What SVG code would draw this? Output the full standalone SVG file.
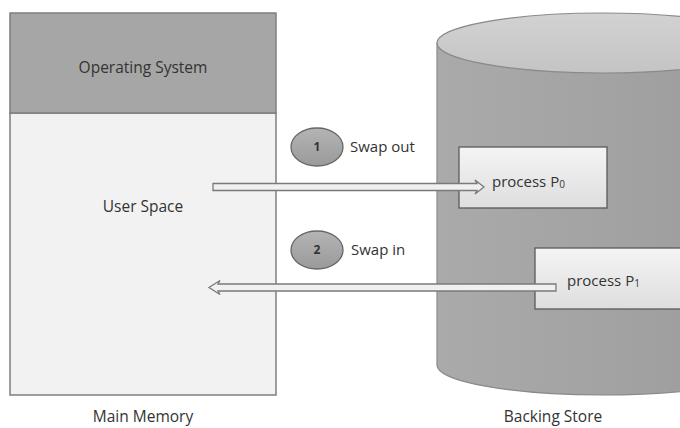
<svg xmlns="http://www.w3.org/2000/svg" width="680" height="428" viewBox="0 0 680 428">
<defs>
<linearGradient id="bodyGrad" x1="0" y1="0" x2="1" y2="0">
<stop offset="0" stop-color="#aaaaaa"/>
<stop offset="0.5" stop-color="#a3a3a3"/>
<stop offset="1" stop-color="#9b9b9b"/>
</linearGradient>
<linearGradient id="topGrad" x1="0" y1="0" x2="0" y2="1">
<stop offset="0" stop-color="#d2d2d2"/>
<stop offset="1" stop-color="#c4c4c4"/>
</linearGradient>
<linearGradient id="boxGrad" x1="0" y1="0" x2="0" y2="1">
<stop offset="0" stop-color="#f4f4f4"/>
<stop offset="1" stop-color="#dedede"/>
</linearGradient>
<linearGradient id="ballGrad" x1="0" y1="0" x2="0" y2="1">
<stop offset="0" stop-color="#b4b4b4"/>
<stop offset="1" stop-color="#9a9a9a"/>
</linearGradient>
</defs>
<style>
text { font-family: "Open Sans", "Noto Sans", "Liberation Sans", sans-serif; fill: #333333; }
.lbl { font-size: 15.5px; }
.small { font-size: 15px; }
.num { font-size: 12px; font-weight: bold; }
.box { fill: url(#boxGrad); stroke: #5a5a5a; stroke-width: 1.3; }
.ball { fill: url(#ballGrad); stroke: #666; stroke-width: 1.3; }
.arrow { fill: #f0f0f0; stroke: #7a7a7a; stroke-width: 1.3; stroke-linejoin: miter; }
</style>
<rect width="680" height="428" fill="#ffffff"/>

<g id="main-memory">
<rect x="10" y="113" width="266" height="282" fill="#f2f2f2" stroke="#7f7f7f" stroke-width="1.5"/>
<rect x="10" y="13" width="266" height="100" fill="#a6a6a6" stroke="#7f7f7f" stroke-width="1.5"/>
<text class="lbl" x="143" y="73" text-anchor="middle" font-size="16.5">Operating System</text>
<text class="lbl" x="143" y="212" text-anchor="middle">User Space</text>
<text class="lbl" x="143" y="422" text-anchor="middle" font-size="15">Main Memory</text>
</g>

<g id="backing-store">
<path d="M437,43 L437,365 A165,30 0 0 0 767,365 L767,43 Z" fill="url(#bodyGrad)" stroke="#8a8a8a" stroke-width="1.2"/>
<ellipse cx="602" cy="43" rx="165" ry="30" fill="url(#topGrad)" stroke="#8a8a8a" stroke-width="1.2"/>
<text class="lbl" x="553" y="422" text-anchor="middle" font-size="16.5">Backing Store</text>
</g>

<g id="process-p0">
<rect class="box" x="459" y="147" width="148" height="61"/>
<text class="small" x="492" y="187">process P<tspan font-size="10" dy="1">0</tspan></text>
</g>

<g id="process-p1">
<rect class="box" x="535" y="248" width="160" height="61"/>
<text class="small" x="567" y="286">process P<tspan font-size="10" dy="1">1</tspan></text>
</g>

<g id="step-1">
<ellipse class="ball" cx="317" cy="147" rx="26" ry="19"/>
<text class="num" x="317" y="151" text-anchor="middle">1</text>
<text class="small" x="350" y="152">Swap out</text>
</g>

<g id="step-2">
<ellipse class="ball" cx="317" cy="250" rx="26" ry="19"/>
<text class="num" x="317" y="254" text-anchor="middle">2</text>
<text class="small" x="351" y="255">Swap in</text>
</g>

<g id="connectors">
<path class="arrow" d="M213,183.5 L477,183.5 L475,180 L484,187 L475,194 L477,190.5 L213,190.5 Z"/>
<path class="arrow" d="M556,284 L218,284 L220,280.5 L209,287.5 L220,294.5 L218,291 L556,291 Z"/>
</g>
</svg>
